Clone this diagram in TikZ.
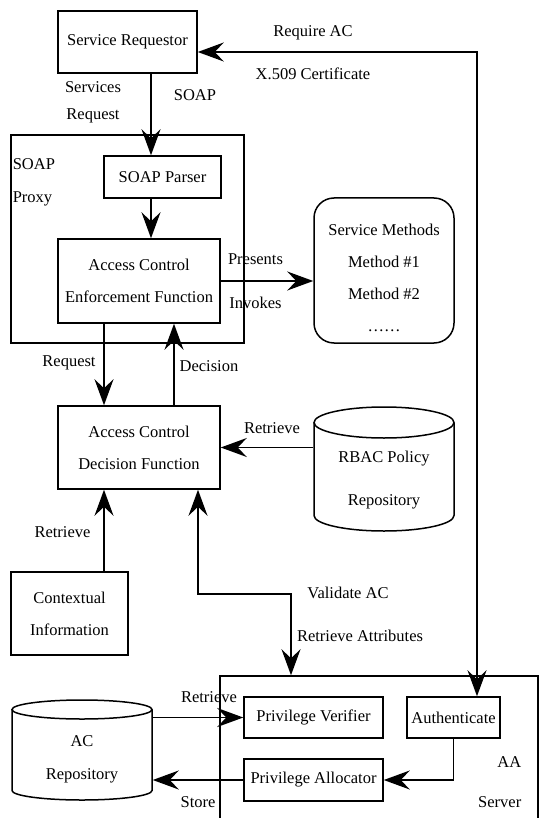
\documentclass[tikz,border=0pt]{standalone}
\usepackage{fontspec}
\setmainfont{Liberation Serif}
\usetikzlibrary{arrows.meta,calc}

\begin{document}
\begin{tikzpicture}[x=1pt,y=-1pt,
line width=1.5pt,
every node/.style={font=\fontsize{16.5}{32}\selectfont,inner sep=0pt},
box/.style={draw,align=center},
lbl/.style={align=center},
>={Stealth[length=26pt,width=19pt,inset=9pt]}]
\useasboundingbox (0,0) rectangle (539,818);
\node (req) [box,minimum width=139pt,minimum height=62pt] at (127.5,42) {Service Requestor};
\node (proxy) [box,minimum width=233pt,minimum height=208pt] at (127.5,239) {};
\node (proxyLbl) [anchor=west,align=left,font=\fontsize{16.5}{33}\selectfont] at (12,182.5) {SOAP\\Proxy};
\node (parser) [box,minimum width=117pt,minimum height=42pt] at (162.5,177) {SOAP Parser};
\node (acef) [box,minimum width=162pt,minimum height=84pt] at (139,281) {Access Control\\Enforcement Function};
\node (methods) [box,rounded corners=20pt,minimum width=140pt,minimum height=145pt] at (384,270.5) {};
\node (methodsText) [lbl] at (384,278) {Service Methods\\Method \#1\\Method \#2\\……};
\node (acdf) [box,minimum width=162pt,minimum height=83pt] at (139,447.5) {Access Control\\Decision Function};
\node (rbac) [lbl,minimum width=140pt,font=\fontsize{16.5}{43}\selectfont] at (384,480.5) {RBAC Policy\\Repository};
\node (ctx) [box,minimum width=117pt,minimum height=83pt] at (69.5,613.5) {Contextual\\Information};
\node (aa) [box,minimum width=318pt,minimum height=174pt] at (379,763) {};
\node (aaLbl) [anchor=east,align=right,font=\fontsize{16.5}{40}\selectfont] at (522,782) {AA\\Server};
\node (auth) [box,minimum width=93pt,minimum height=41pt] at (453.5,717.5) {Authenticate};
\node (pv) [box,minimum width=139pt,minimum height=41pt] at (313.5,717.5) {Privilege Verifier};
\node (pa) [box,minimum width=139pt,minimum height=42pt] at (313.5,780) {Privilege Allocator};
\node (acrepo) [lbl,minimum width=140pt,font=\fontsize{16.5}{33}\selectfont] at (82,759.5) {AC\\Repository};

\draw (384,422.5) ellipse [x radius=70,y radius=15.5];
\draw (314,422.5) -- (314,515.5) arc [start angle=180,end angle=0,x radius=70,y radius=15.5] -- (454,422.5);
\draw (82,709.5) ellipse [x radius=70,y radius=9.5];
\draw (12,709.5) -- (12,790.5) arc [start angle=180,end angle=0,x radius=70,y radius=9.5] -- (152,709.5);

\draw[->] ([xshift=23.5pt]req.south) -- ([xshift=-11.5pt]parser.north);
\draw[->] ([xshift=-11.5pt]parser.south) -- ([xshift=12pt]acef.north);
\draw[->] (acef.east) -- (acef.east -| methods.west);
\draw[->] ([xshift=-35pt]acef.south) -- ([xshift=-35pt]acdf.north);
\draw[->] ([xshift=35pt]acdf.north) -- ([xshift=35pt]acef.south);
\draw[->] (rbac.west |- acdf.east) -- (acdf.east);
\draw[->] ([xshift=-35pt]acdf.south |- ctx.north) -- ([xshift=-35pt]acdf.south);
\draw[<->] ([xshift=59pt]acdf.south) -- ++(0,104) -| ([xshift=-88pt]aa.north);
\draw[<->] ([yshift=-10pt]req.east) -| ([xshift=23.5pt]auth.north);
\draw[->] (auth.south) |- (pa.east);
\draw[->] (acrepo.east |- pv.west) -- (pv.west);
\draw[->] (pa.west) -- (pa.west -| acrepo.east);

\node (requireLbl) [lbl] at (313,33) {Require AC};
\node (certLbl) [lbl] at (313,74) {X.509 Certificate};
\node (servReqLbl) [lbl,font=\fontsize{16.5}{27}\selectfont] at (93,102.5) {Services\\Request};
\node (soapLbl) at (195,95) {SOAP};
\node (presentsLbl) at (255.5,259) {Presents};
\node (invokesLbl) at (255.5,303) {Invokes};
\node (requestLbl) at (69,363) {Request};
\node (decisionLbl) at (209,366) {Decision};
\node (retrievePolicyLbl) at (272,428) {Retrieve};
\node (retrieveCtxLbl) at (62.5,532) {Retrieve};
\node (validateLbl) at (348,593) {Validate AC};
\node (attrLbl) at (360,636) {Retrieve Attributes};
\node (retrieveACLbl) at (209,697) {Retrieve};
\node (storeLbl) at (198,802) {Store};
\end{tikzpicture}
\end{document}
